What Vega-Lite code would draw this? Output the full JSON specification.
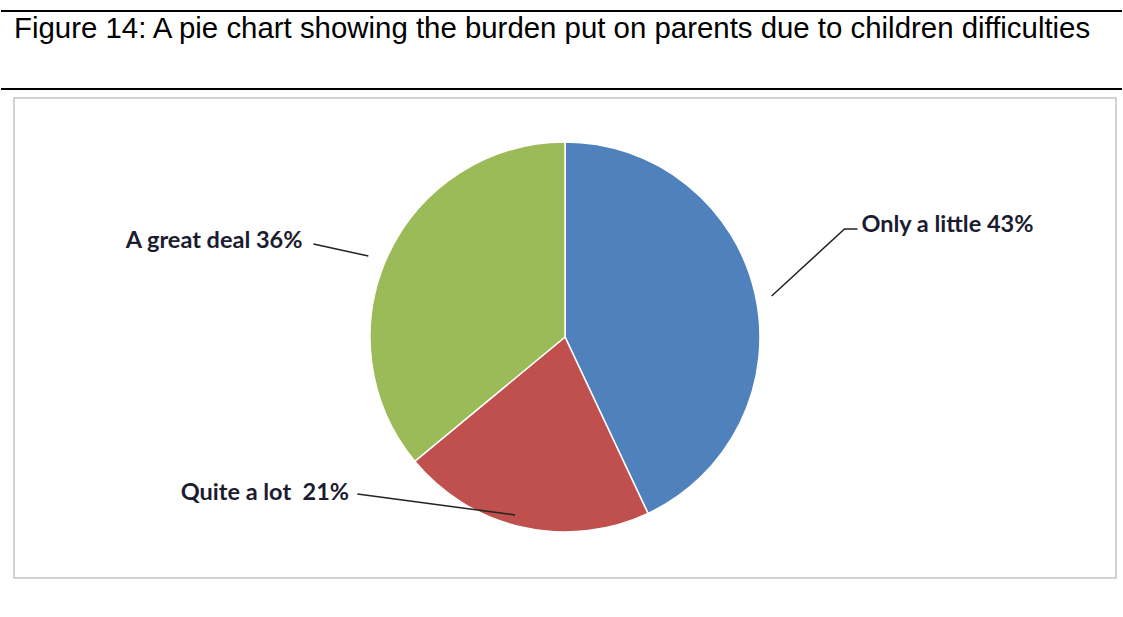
{
  "$schema": "https://vega.github.io/schema/vega-lite/v6.json",
  "width": 1123,
  "height": 617,
  "autosize": {"type": "fit", "contains": "padding"},
  "padding": 0,
  "background": "white",
  "config": {"view": {"stroke": null}},
  "datasets": {
    "rules": [
      {"x": 0, "x2": 1123, "y": 11, "y2": 11},
      {"x": 0, "x2": 1123, "y": 89, "y2": 89}
    ],
    "box": [{"x": 13, "x2": 1117, "y": 98, "y2": 578}],
    "title": [{"x": 13, "y": 38, "t": "Figure 14: A pie chart showing the burden put on parents due to children difficulties"}],
    "pie": [
      {"cat": "Only a little", "pct": 43, "o": 1, "cx": 565, "cy": 337},
      {"cat": "Quite a lot", "pct": 21, "o": 2, "cx": 565, "cy": 337},
      {"cat": "A great deal", "pct": 36, "o": 3, "cx": 565, "cy": 337}
    ],
    "labels": [
      {"x": 125, "y": 241, "t": "A great deal 36%"},
      {"x": 862, "y": 225, "t": "Only a little 43%"},
      {"x": 180, "y": 493, "t": "Quite a lot\u00a0 21%"}
    ],
    "leaders": [
      {"g": "a", "i": 1, "x": 313, "y": 244},
      {"g": "a", "i": 2, "x": 368, "y": 256},
      {"g": "b", "i": 1, "x": 858, "y": 229},
      {"g": "b", "i": 2, "x": 845, "y": 229},
      {"g": "b", "i": 3, "x": 772, "y": 296},
      {"g": "c", "i": 1, "x": 357, "y": 494},
      {"g": "c", "i": 2, "x": 515, "y": 515}
    ]
  },
  "layer": [
    {
      "data": {"name": "box"},
      "mark": {"type": "rect", "fill": "#e4e4e4", "stroke": null},
      "encoding": {
        "x": {"field": "x", "type": "quantitative", "scale": {"domain": [0, 1123], "nice": false, "zero": false}, "axis": null},
        "x2": {"field": "x2"},
        "y": {"field": "y", "type": "quantitative", "scale": {"domain": [0, 617], "nice": false, "zero": false, "reverse": true}, "axis": null},
        "y2": {"field": "y2"}
      }
    },
    {
      "data": {"name": "box"},
      "mark": {"type": "rect", "fill": "white", "stroke": "#c4c4c4", "strokeWidth": 1.5},
      "encoding": {
        "x": {"field": "x", "type": "quantitative"},
        "x2": {"field": "x2"},
        "y": {"field": "y", "type": "quantitative"},
        "y2": {"field": "y2"}
      }
    },
    {
      "data": {"name": "rules"},
      "mark": {"type": "rule", "color": "black", "strokeWidth": 2},
      "encoding": {
        "x": {"field": "x", "type": "quantitative"},
        "x2": {"field": "x2"},
        "y": {"field": "y", "type": "quantitative"},
        "y2": {"field": "y2"}
      }
    },
    {
      "data": {"name": "title"},
      "mark": {"type": "text", "align": "left", "baseline": "alphabetic", "font": "Liberation Sans", "fontSize": 29.4, "color": "black"},
      "encoding": {
        "x": {"field": "x", "type": "quantitative"},
        "y": {"field": "y", "type": "quantitative"},
        "text": {"field": "t"}
      }
    },
    {
      "data": {"name": "pie"},
      "mark": {"type": "point", "filled": true, "shape": "circle", "size": 123000, "color": "#dcdcdc", "opacity": 1},
      "encoding": {
        "x": {"field": "cx", "type": "quantitative"},
        "y": {"field": "cy", "type": "quantitative"}
      }
    },
    {
      "data": {"name": "pie"},
      "mark": {"type": "arc", "radius": 195, "stroke": "white", "strokeWidth": 1.5},
      "encoding": {
        "x": {"field": "cx", "type": "quantitative"},
        "y": {"field": "cy", "type": "quantitative"},
        "theta": {"field": "pct", "type": "quantitative", "stack": true},
        "order": {"field": "o"},
        "color": {"field": "cat", "type": "nominal", "scale": {"domain": ["Only a little", "Quite a lot", "A great deal"], "range": ["#4F81BD", "#C0504D", "#9BBB59"]}, "legend": null}
      }
    },
    {
      "data": {"name": "leaders"},
      "mark": {"type": "line", "color": "#222222", "strokeWidth": 1.5},
      "encoding": {
        "x": {"field": "x", "type": "quantitative"},
        "y": {"field": "y", "type": "quantitative"},
        "detail": {"field": "g"},
        "order": {"field": "i"}
      }
    },
    {
      "data": {"name": "labels"},
      "mark": {"type": "text", "align": "left", "baseline": "middle", "font": "Lato", "fontWeight": "bold", "fontSize": 23.5, "color": "#1c1c30"},
      "encoding": {
        "x": {"field": "x", "type": "quantitative"},
        "y": {"field": "y", "type": "quantitative"},
        "text": {"field": "t"}
      }
    }
  ]
}
